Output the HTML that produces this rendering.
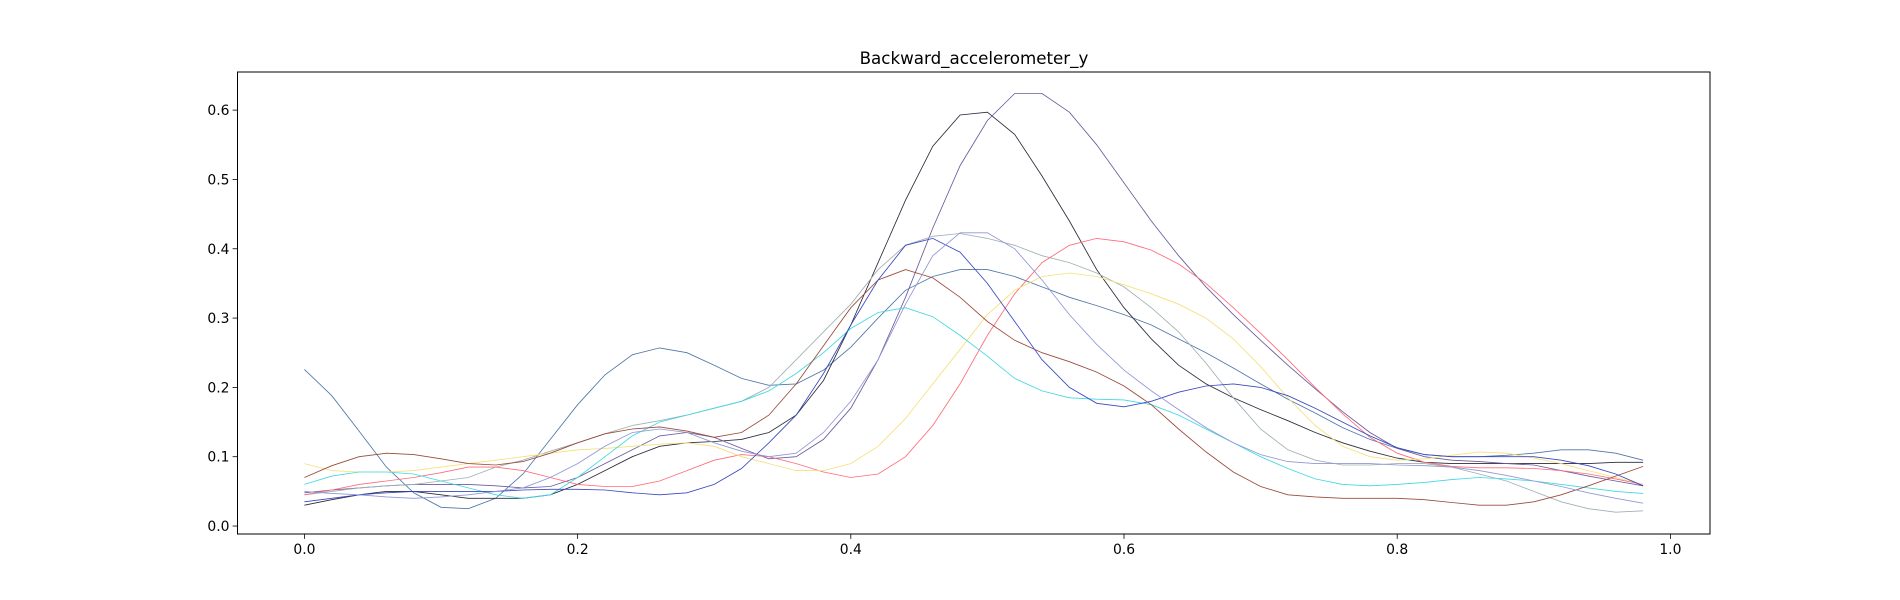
<!DOCTYPE html>
<html><head><meta charset="utf-8"><style>
body{margin:0;background:#fff}
svg{display:block;font-family:"DejaVu Sans","Liberation Sans",sans-serif}
</style></head><body>
<svg id="chart" width="1900" height="600" xmlns="http://www.w3.org/2000/svg">
<rect width="1900" height="600" fill="#fff"/>
<text x="974" y="64" font-size="16.7" text-anchor="middle">Backward_accelerometer_y</text>
<g id="plot"></g>
<rect x="237.5" y="72" width="1472.5" height="462" fill="none" stroke="#000" stroke-width="1"/>
</svg>
<script>
const xTicks = [0.0, 0.2, 0.4, 0.6, 0.8, 1.0];
const xTickLabels = ["0.0","0.2","0.4","0.6","0.8","1.0"];
const yTicks = [0.0, 0.1, 0.2, 0.3, 0.4, 0.5, 0.6];
const yTickLabels = ["0.0","0.1","0.2","0.3","0.4","0.5","0.6"];
const xStep = 0.02;
const seriesA = [.226,.188,.137,.085,.048,.027,.025,.04,.075,.125,.175,.218,.247,.257,.25,.232,.213,.203,.205,.225,.258,.3,.34,.36,.37,.37,.36,.345,.33,.318,.305,.29,.27,.25,.228,.205,.183,.163,.142,.125,.112,.103,.1,.1,.102,.105,.11,.11,.105,.095];
const seriesB = [.03,.038,.045,.05,.05,.045,.04,.04,.04,.045,.06,.08,.1,.115,.12,.122,.125,.135,.16,.21,.29,.38,.47,.548,.593,.597,.565,.505,.44,.37,.315,.27,.232,.205,.185,.168,.152,.135,.12,.108,.098,.092,.09,.09,.09,.09,.09,.09,.092,.092];
const seriesC = [.048,.052,.055,.058,.06,.06,.06,.058,.055,.057,.07,.09,.11,.13,.135,.128,.112,.097,.1,.125,.17,.24,.33,.43,.52,.585,.624,.624,.597,.55,.495,.44,.39,.345,.305,.268,.232,.198,.165,.135,.112,.1,.095,.093,.09,.088,.08,.072,.065,.058];
const seriesD = [.045,.05,.055,.058,.06,.065,.07,.085,.095,.108,.12,.133,.145,.152,.16,.17,.18,.2,.24,.28,.32,.37,.405,.418,.422,.415,.405,.39,.38,.365,.345,.315,.28,.235,.185,.14,.11,.095,.088,.088,.09,.09,.085,.075,.065,.05,.035,.025,.02,.022];
const seriesE = [.045,.052,.06,.065,.07,.077,.085,.085,.08,.07,.06,.057,.057,.065,.08,.095,.103,.1,.09,.078,.07,.075,.1,.145,.205,.275,.335,.38,.405,.415,.41,.398,.378,.35,.315,.278,.24,.2,.162,.128,.105,.092,.086,.084,.084,.083,.08,.075,.068,.06];
const seriesF = [.09,.08,.078,.078,.08,.085,.09,.095,.1,.105,.11,.112,.115,.118,.12,.115,.1,.09,.08,.08,.09,.115,.155,.205,.255,.305,.34,.36,.365,.36,.348,.335,.32,.3,.27,.23,.185,.145,.115,.1,.095,.097,.102,.107,.105,.098,.09,.08,.07,.06];
const seriesG = [.06,.072,.078,.078,.075,.065,.055,.045,.04,.045,.07,.1,.13,.15,.16,.17,.18,.195,.22,.25,.285,.308,.315,.302,.275,.245,.213,.195,.185,.183,.182,.175,.16,.14,.12,.1,.083,.068,.06,.058,.06,.063,.067,.07,.068,.065,.06,.055,.05,.047];
const seriesH = [.07,.087,.1,.105,.103,.097,.09,.088,.093,.105,.12,.133,.14,.143,.137,.128,.135,.16,.205,.26,.315,.355,.37,.358,.33,.295,.268,.25,.237,.222,.202,.175,.14,.107,.078,.057,.045,.042,.04,.04,.04,.038,.034,.03,.03,.035,.045,.058,.072,.086];
const seriesI = [.035,.04,.045,.048,.05,.05,.05,.05,.052,.053,.053,.052,.048,.045,.048,.06,.083,.12,.16,.22,.29,.355,.405,.415,.395,.35,.295,.24,.2,.177,.172,.18,.193,.202,.205,.2,.188,.17,.15,.13,.113,.103,.1,.1,.1,.1,.095,.087,.075,.058];
const seriesJ = [.05,.047,.045,.042,.04,.042,.045,.05,.055,.07,.09,.115,.135,.14,.135,.12,.108,.1,.105,.135,.18,.24,.32,.39,.423,.423,.4,.355,.305,.262,.225,.195,.168,.142,.12,.103,.093,.09,.09,.09,.088,.087,.085,.08,.073,.065,.057,.048,.04,.033];

const seriesList = [seriesA,seriesB,seriesC,seriesD,seriesE,seriesF,seriesG,seriesH,seriesI,seriesJ];
const colors = ["#4f77a8","#2b2b3b","#6b5b9b","#9fb0b3","#ff6b7a","#f5e07a","#3fd8e2","#9a4a3a","#3848c0","#8f97d5"];

const L=237.5,R=1710,T=72,B=534;
const xMin=-0.049,xMax=1.029,yMin=-0.0115,yMax=0.655;
const sx=v=>L+(v-xMin)/(xMax-xMin)*(R-L);
const sy=v=>B-(v-yMin)/(yMax-yMin)*(B-T);
const NS="http://www.w3.org/2000/svg";
const g=document.getElementById('plot');
function mk(tag,attrs){const e=document.createElementNS(NS,tag);for(const k in attrs)e.setAttribute(k,attrs[k]);return e;}

seriesList.forEach((s,si)=>{
  const pts=s.map((v,i)=>sx(i*xStep).toFixed(1)+","+sy(v).toFixed(1)).join(" ");
  const p=mk('polyline',{points:pts,fill:'none',stroke:colors[si],'stroke-width':0.85});
  
  
  g.appendChild(p);
});

xTicks.forEach((t,i)=>{
  const x=sx(t);
  const ln=mk('line',{x1:x,x2:x,y1:B,y2:B+4.9,stroke:'#000','stroke-width':0.8});
  
  
  g.appendChild(ln);
  const tx=mk('text',{x:x,y:B+20,'font-size':13.9,'text-anchor':'middle'});
  
  
  tx.textContent=xTickLabels[i];g.appendChild(tx);
});
yTicks.forEach((t,i)=>{
  const y=sy(t);
  const ln=mk('line',{x1:L-4.9,x2:L,y1:y,y2:y,stroke:'#000','stroke-width':0.8});
  
  
  g.appendChild(ln);
  const tx=mk('text',{x:L-8,y:y+5,'font-size':13.9,'text-anchor':'end'});
  
  
  tx.textContent=yTickLabels[i];g.appendChild(tx);
});
</script>
</body></html>
